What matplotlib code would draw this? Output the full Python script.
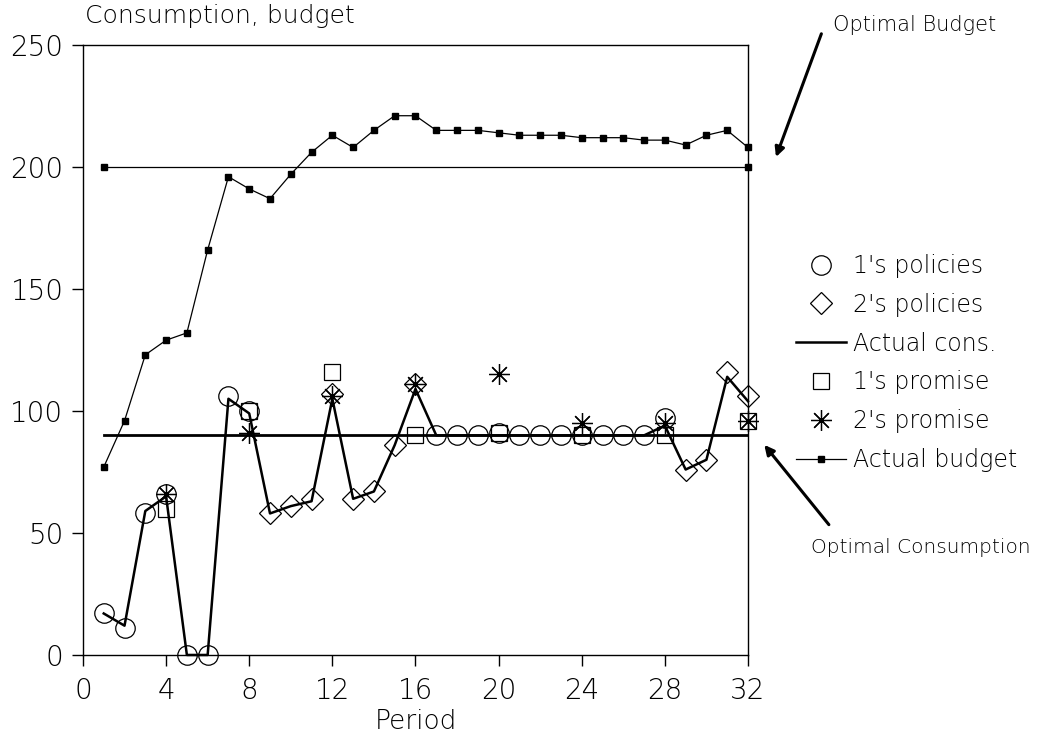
import numpy as np
import matplotlib.pyplot as plt

periods = np.arange(1, 33)

# Actual consumption (line) and actual budget
actual_cons = [17, 12, 59, 65, 0, 0, 105, 99, 58, 61, 63, 105, 64, 67, 86, 109,
               90, 90, 90, 90, 90, 90, 90, 90, 90, 90, 90, 94, 76, 80, 114, 104]
actual_budget = [77, 96, 123, 129, 132, 166, 196, 191, 187, 197, 206, 213, 208, 215, 221, 221,
                 215, 215, 215, 214, 213, 213, 213, 212, 212, 212, 211, 211, 209, 213, 215, 208]

# policies
p1_periods = [1, 2, 3, 4, 5, 6, 7, 8, 17, 18, 19, 20, 21, 22, 23, 24, 25, 26, 27, 28]
p1_values = [17, 11, 58, 66, 0, 0, 106, 100, 90, 90, 90, 91, 90, 90, 90, 90, 90, 90, 90, 97]
p2_periods = [9, 10, 11, 12, 13, 14, 15, 16, 29, 30, 31, 32]
p2_values = [58, 61, 64, 107, 64, 67, 86, 111, 76, 80, 116, 106]

# promises (every 4th period)
promise_periods = [4, 8, 12, 16, 20, 24, 28, 32]
promise1 = [60, 100, 116, 90, 91, 90, 90, 96]
promise2 = [66, 91, 106, 111, 115, 95, 95, 96]

optimal_budget = 200
optimal_cons = 90

plt.rcParams["font.family"] = "DejaVu Sans"
plt.rcParams["font.weight"] = "light"
txt = "black"

fig = plt.figure(figsize=(10.37, 7.42), dpi=100)
ax = fig.add_axes([0.080, 0.1173, 0.6413, 0.8221])

# optimal levels
ax.plot([1, 32], [optimal_budget, optimal_budget], color="black", lw=0.9,
        marker="s", ms=5, clip_on=False)
ax.plot([1, 32], [optimal_cons, optimal_cons], color="black", lw=2)

ax.plot(p1_periods, p1_values, linestyle="none", marker="o", ms=14, mfc="none",
        mec="black", mew=0.9, label="1's policies", clip_on=False)
ax.plot(p2_periods, p2_values, linestyle="none", marker="D", ms=11, mfc="none",
        mec="black", mew=0.9, label="2's policies", clip_on=False)
ax.plot(periods, actual_cons, color="black", lw=1.8, label="Actual cons.", clip_on=False)
ax.plot(promise_periods, promise1, linestyle="none", marker="s", ms=12, mfc="none",
        mec="black", mew=0.9, label="1's promise", clip_on=False)
ax.plot(promise_periods, promise2, linestyle="none", marker=(8, 2, 0), ms=15,
        mec="black", mew=0.9, label="2's promise", clip_on=False)
ax.plot(periods, actual_budget, color="black", lw=0.9, marker="s", ms=5,
        label="Actual budget", clip_on=False)

ax.set_xlim(0, 32)
ax.set_ylim(0, 250)
ax.set_xticks(np.arange(0, 33, 4))
ax.set_yticks(np.arange(0, 251, 50))
ax.tick_params(direction="out", length=8, width=1, labelsize=20, pad=6,
               colors="black", labelcolor=txt)
ax.tick_params(axis="x", pad=8)
for s in ax.spines.values():
    s.set_linewidth(1)

ax.set_xlabel("Period", fontsize=19, color=txt, labelpad=3, fontweight="light")
fig.text(0.082, 0.978, "Consumption, budget", fontsize=18, color=txt,
         va="center", ha="left")

ax.legend(loc="upper left", bbox_to_anchor=(0.768, 0.658),
          bbox_transform=fig.transFigure, frameon=False, fontsize=17,
          labelspacing=0.63, handlelength=2.1, handletextpad=0.3,
          borderpad=0, borderaxespad=0, labelcolor=txt)

# annotations
fig.text(0.803, 0.966, "Optimal Budget", fontsize=15, color=txt,
         va="center", ha="left")
ax.annotate("", xy=(33.3, 203), xycoords="data",
            xytext=(0.793, 0.958), textcoords="figure fraction",
            arrowprops=dict(arrowstyle="-|>", lw=2.2, color="black",
                            mutation_scale=14),
            annotation_clip=False)
fig.text(0.782, 0.262, "Optimal Consumption", fontsize=14.5, color=txt,
         va="center", ha="left")
ax.annotate("", xy=(32.7, 87), xycoords="data",
            xytext=(0.801, 0.29), textcoords="figure fraction",
            arrowprops=dict(arrowstyle="-|>", lw=2.2, color="black",
                            mutation_scale=14),
            annotation_clip=False)

fig.savefig("out.png", dpi=100)
